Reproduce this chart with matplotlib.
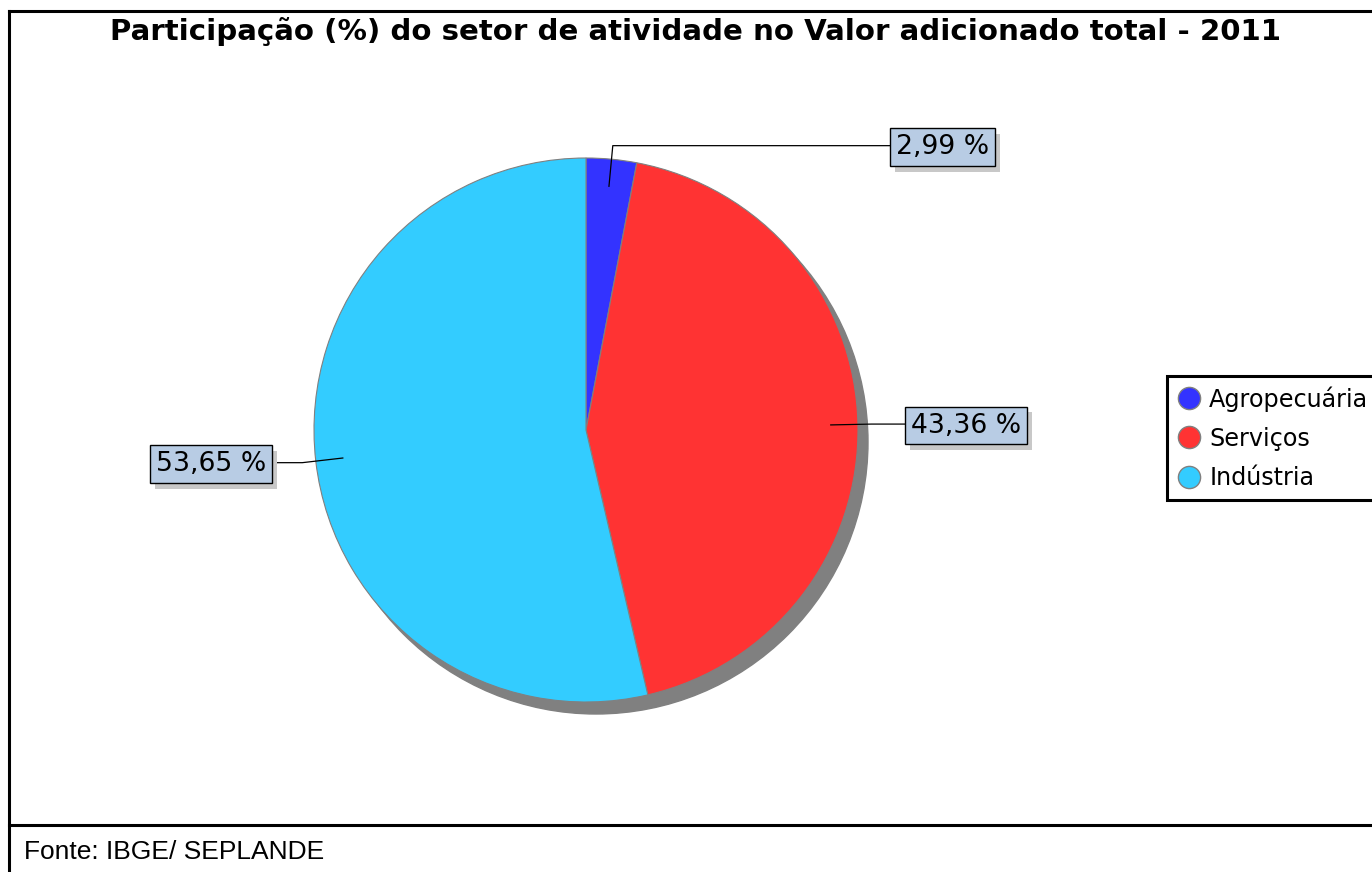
import matplotlib.pyplot as plt
import numpy as np
from matplotlib.lines import Line2D
from matplotlib import patheffects as pe

# dados do grafico
setores = ['Agropecuária', 'Serviços', 'Indústria']
participacao = [2.99, 43.36, 53.65]
cores = ['#3333FF', '#FF3333', '#33CCFF']
titulo = 'Participação (%) do setor de atividade no Valor adicionado total - 2011'
fonte = 'Fonte: IBGE/ SEPLANDE'

W, H = 1372, 872
fig = plt.figure(figsize=(W / 100, H / 100), dpi=100)
ax = fig.add_axes([0, 0, 1, 1])

# moldura
ax.plot([9, 9], [11, H], color='black', lw=2.2, solid_capstyle='projecting')
ax.plot([9, W], [11, 11], color='black', lw=2.2, solid_capstyle='projecting')
ax.plot([9, W], [825, 825], color='black', lw=2.2)

cx, cy, R = 586, 430, 272

# sombra da pizza
ax.add_patch(plt.Circle((cx + 10, cy + 12), R, color='#808080', zorder=1))

# pizza (eixo y invertido -> counterclock=True gira no sentido horario na tela)
wedges, _ = ax.pie(participacao, colors=cores, startangle=-90, counterclock=True,
                   center=(cx, cy), radius=R, frame=True,
                   wedgeprops=dict(edgecolor='#808080', linewidth=0.8, zorder=2))
ax.set_xlim(0, W)
ax.set_ylim(H, 0)
ax.set_aspect('auto')
ax.axis('off')

# rotulos
total = sum(participacao)
acum = np.cumsum([0] + participacao[:-1])
caixa = dict(boxstyle='square,pad=0.22', fc='#B8CCE4', ec='black', lw=1)
fim_linha = [890, 905, 272]
for i, v in enumerate(participacao):
    ang = np.deg2rad((acum[i] + v / 2) / total * 360)
    x0, y0 = cx + 0.9 * R * np.sin(ang), cy - 0.9 * R * np.cos(ang)
    x1, y1 = cx + 1.05 * R * np.sin(ang), cy - 1.05 * R * np.cos(ang)
    xe = fim_linha[i]
    ax.plot([x0, x1, xe], [y0, y1, y1], color='black', lw=0.9, zorder=3)
    lado = 'left' if xe > cx else 'right'
    dx = 6 if xe > cx else -6
    rot = (f'{v:.2f}'.replace('.', ',')) + ' %'
    t = ax.text(xe + dx, y1 + 1.5, rot, ha=lado, va='center', fontsize=19.2,
                bbox=caixa, zorder=4)
    t.get_bbox_patch().set_path_effects([
        pe.SimplePatchShadow(offset=(3.6, -4), shadow_rgbFace='#C8C8C8', alpha=1),
        pe.Normal()])

# legenda
handles = [Line2D([], [], marker='o', ls='', markersize=16, markerfacecolor=c,
                  markeredgecolor='#808080', markeredgewidth=1) for c in cores]
leg = ax.legend(handles, setores, loc='upper left', bbox_to_anchor=(1167 / W, 1 - 376 / H),
                bbox_transform=fig.transFigure, fontsize=17.2, frameon=True, fancybox=False,
                framealpha=1, handletextpad=0.35, borderpad=0.42, labelspacing=0.64,
                handlelength=1.0, borderaxespad=0)
leg.get_frame().set_edgecolor('black')
leg.get_frame().set_linewidth(2.2)

fig.text(696 / W, 1 - 32 / H, titulo, ha='center', va='center', fontsize=21.1,
         fontweight='bold')
fig.text(24 / W, 1 - 852 / H, fonte, ha='left', va='center', fontsize=19,
         family='Liberation Sans')

fig.savefig('out.png', dpi=100)
